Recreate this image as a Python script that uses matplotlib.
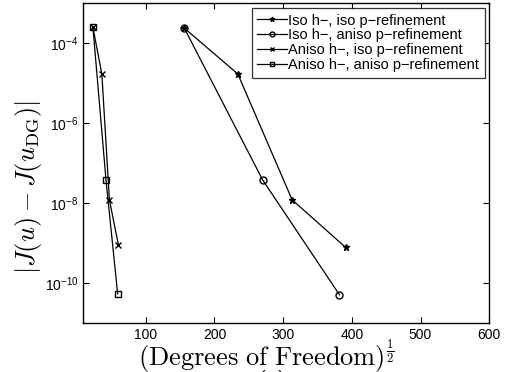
import matplotlib
matplotlib.use("Agg")
import matplotlib.pyplot as plt

plt.rcParams['font.family'] = ['Liberation Sans', 'DejaVu Sans']
plt.rcParams['mathtext.fontset'] = 'cm'

# sqrt(DoF) and |J(u) - J(u_DG)| for each refinement strategy
iso_iso_x = [156, 234, 313, 391]
iso_iso_y = [2.4e-4, 1.7e-5, 1.2e-8, 7.7e-10]

iso_aniso_x = [156, 270, 382]
iso_aniso_y = [2.4e-4, 3.8e-8, 5.0e-11]

aniso_iso_x = [23, 36, 47, 60]
aniso_iso_y = [2.5e-4, 1.7e-5, 1.2e-8, 9.0e-10]

aniso_aniso_x = [23, 42, 59]
aniso_aniso_y = [2.5e-4, 3.8e-8, 5.3e-11]

labels = ["Iso h\u2212, iso p\u2212refinement",
          "Iso h\u2212, aniso p\u2212refinement",
          "Aniso h\u2212, iso p\u2212refinement",
          "Aniso h\u2212, aniso p\u2212refinement"]

fig = plt.figure(figsize=(5.08, 3.72), dpi=100)
ax = fig.add_axes([0.164, 0.1325, 0.799, 0.8585])

ax.semilogy(iso_iso_x, iso_iso_y, '-*', color='k', lw=0.9, ms=5, label=labels[0])
ax.semilogy(iso_aniso_x, iso_aniso_y, '-o', color='k', lw=0.9, ms=5, mfc='none', label=labels[1])
ax.semilogy(aniso_iso_x, aniso_iso_y, '-x', color='k', lw=0.9, ms=4, label=labels[2])
ax.semilogy(aniso_aniso_x, aniso_aniso_y, '-s', color='k', lw=0.9, ms=5, mfc='none', label=labels[3])

ax.set_xlim(9, 600)
ax.set_ylim(1e-11, 1e-3)
ax.set_xticks([100, 200, 300, 400, 500, 600])
ax.set_yticks([1e-10, 1e-8, 1e-6, 1e-4])
ax.minorticks_off()
ax.tick_params(direction='in', top=True, right=True, labelsize=10, length=4)
for s in ax.spines.values():
    s.set_linewidth(1.0)

ax.set_xlabel(r'$\mathrm{(Degrees\ of\ Freedom)}^{\frac{1}{2}}$', fontsize=19)
ax.set_ylabel(r'$|J(u)-J(u_{\rm DG})|$', fontsize=19)
ax.xaxis.set_label_coords(0.45, -0.045)
ax.yaxis.set_label_coords(-0.098, 0.425)

leg = ax.legend(loc='upper right', fontsize=10.5, frameon=True, fancybox=False,
                edgecolor='k', borderpad=0.4, labelspacing=0.05, handlelength=2.0,
                handletextpad=0.1, borderaxespad=0.3, markerscale=0.7)
leg.get_frame().set_linewidth(0.9)

fig.text(0.535, 0.006, '(a)', fontsize=14, ha='center', va='top', family='DejaVu Serif')

fig.savefig('out.png', dpi=100)
